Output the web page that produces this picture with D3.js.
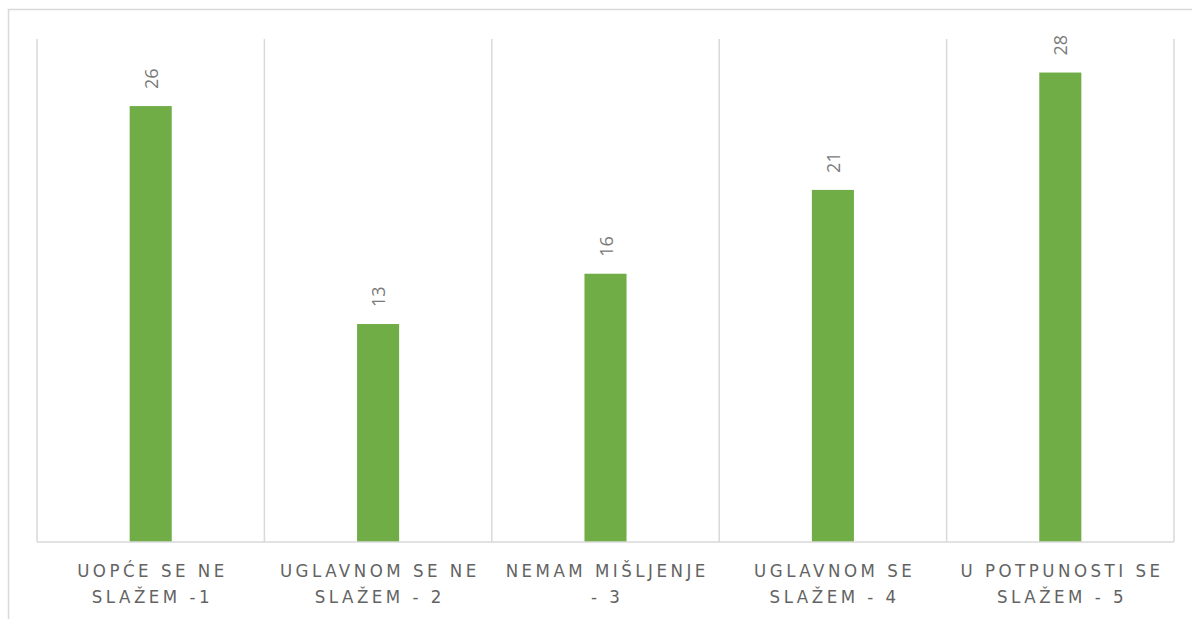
<!DOCTYPE html>
<html>
<head>
<meta charset="utf-8">
<script src="https://cdn.jsdelivr.net/npm/d3@7"></script>
<style>
  body { margin: 0; background: #fff; }
  svg { display: block; }
</style>
</head>
<body>
<div id="chart"></div>
<script>
  const categories = ['UOPĆE SE NE|SLAŽEM -1', 'UGLAVNOM SE NE|SLAŽEM - 2', 'NEMAM MIŠLJENJE|- 3', 'UGLAVNOM SE|SLAŽEM - 4', 'U POTPUNOSTI SE|SLAŽEM - 5'];
  const values = [26, 13, 16, 21, 28];
  const yDomain = [0, 30];

  const width = 1192;
  const height = 619;
  const margin = { top: 39, right: 18, bottom: 77, left: 37 };

  const svg = d3.select('#chart')
    .append('svg')
    .attr('width', width)
    .attr('height', height);

  // chart border (cut off at right and bottom like the source)
  svg.append('rect')
    .attr('x', 8.5).attr('y', 9.5)
    .attr('width', width).attr('height', height)
    .attr('fill', 'none')
    .attr('stroke', '#d9d9d9')
    .attr('stroke-width', 1.5);

  const x = d3.scaleBand()
    .domain(categories)
    .range([margin.left, width - margin.right])
    .padding(0);

  const y = d3.scaleLinear()
    .domain(yDomain)
    .range([height - margin.bottom, margin.top]);

  const barW = x.bandwidth() * 0.185;

  // vertical gridlines at category boundaries
  const edges = categories.map(c => x(c)).concat([x(categories[categories.length - 1]) + x.bandwidth()]);
  svg.append('g')
    .selectAll('line')
    .data(edges)
    .join('line')
    .attr('x1', d => d).attr('x2', d => d)
    .attr('y1', y(yDomain[1])).attr('y2', y(0))
    .attr('stroke', '#d9d9d9')
    .attr('stroke-width', 1.5);

  svg.selectAll('rect.bar')
    .data(values)
    .join('rect')
    .attr('class', 'bar')
    .attr('x', (d, i) => x(categories[i]) + x.bandwidth() / 2 - barW / 2)
    .attr('y', d => y(d))
    .attr('width', barW)
    .attr('height', d => y(0) - y(d))
    .attr('fill', '#70ad47');

  // baseline
  svg.append('line')
    .attr('x1', x.range()[0]).attr('x2', x.range()[1])
    .attr('y1', y(0)).attr('y2', y(0))
    .attr('stroke', '#d9d9d9')
    .attr('stroke-width', 1.5);

  // value labels, rotated
  svg.selectAll('text.val')
    .data(values)
    .join('text')
    .attr('class', 'val')
    .attr('transform', (d, i) => `translate(${x(categories[i]) + x.bandwidth() / 2},${y(d) - 17}) rotate(-90)`)
    .attr('dominant-baseline', 'central')
    .attr('text-anchor', 'start')
    .attr('font-family', '"Open Sans", "Liberation Sans", sans-serif')
    .attr('font-size', 18)
    .attr('fill', '#7a7a7a')
    .text(d => d);

  // category labels, two lines
  const catG = svg.append('g')
    .attr('font-family', '"Liberation Sans Narrow", "DejaVu Sans Condensed", "Liberation Sans", sans-serif')
    .attr('font-size', 18.5)
    .attr('fill', '#636363')
    .attr('text-anchor', 'middle')
    .style('letter-spacing', '3.5px');

  categories.forEach(c => {
    const lines = c.split('|');
    const t = catG.append('text')
      .attr('x', x(c) + x.bandwidth() / 2)
      .attr('y', 577);
    lines.forEach((l, j) => {
      t.append('tspan')
        .attr('x', x(c) + x.bandwidth() / 2 + 1.75)
        .attr('y', 577 + j * 26)
        .text(l);
    });
  });
</script>
</body>
</html>
